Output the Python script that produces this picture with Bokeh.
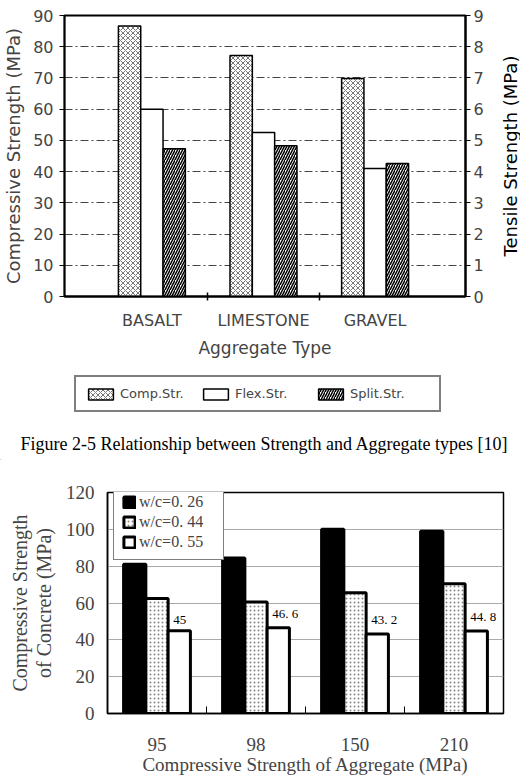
from math import pi

from bokeh.plotting import figure
from bokeh.models import (Range1d, LinearAxis, FixedTicker, Legend, LegendItem,
                          Label, ColumnDataSource)
from bokeh.transform import dodge
from bokeh.layouts import row
from bokeh.core.properties import value
from bokeh.embed import file_html
from bokeh.resources import INLINE

# ---- Figure 2-5: strength vs. aggregate type ----
aggregate_types = ["BASALT", "LIMESTONE", "GRAVEL"]
comp_str = [86.6, 77.2, 69.8]      # compressive strength, MPa (left axis)
flex_str = [6.0, 5.25, 4.1]        # flexural strength, MPa (right axis)
split_str = [4.73, 4.83, 4.26]     # splitting tensile strength, MPa (right axis)
comp_ticks = list(range(0, 91, 10))
tensile_ticks = list(range(0, 10))

# ---- concrete strength vs. aggregate strength ----
agg_strength = ["95", "98", "150", "210"]
wc_026 = [81.0, 84.5, 100.0, 99.0]
wc_044 = [62.5, 60.5, 65.5, 70.5]
wc_055 = [45.0, 46.6, 43.2, 44.8]
concrete_ticks = list(range(0, 121, 20))

SANS = "DejaVu Sans"
SERIF = "Liberation Serif"

# bar styles (shared by the bars and the legend swatches)
comp_style = dict(fill_color="white", line_color="black", line_width=1.5,
                  hatch_pattern="diagonal_cross", hatch_color="#555555",
                  hatch_scale=5, hatch_weight=0.8)
flex_style = dict(fill_color="white", line_color="black", line_width=1.5)
split_style = dict(fill_color="white", line_color="black", line_width=1.5,
                   hatch_pattern="right_diagonal_line", hatch_color="black",
                   hatch_scale=5, hatch_weight=1.5)


def blank_figure(width, height, xr, yr, **borders):
    """Axis-less drawing area used for titles, legends and captions."""
    f = figure(width=width, height=height, x_range=Range1d(*xr), y_range=Range1d(*yr),
               x_axis_type=None, y_axis_type=None, output_backend="svg",
               toolbar_location=None, **borders)
    f.grid.visible = False
    f.outline_line_color = None
    f.background_fill_color = "white"
    f.border_fill_color = "white"
    return f


# ------------------------------------------------------------------ top chart
src1 = ColumnDataSource(dict(x=list(range(len(aggregate_types))),
                             comp=comp_str, flex=flex_str, split=split_str))

p1 = figure(width=497, height=360, x_range=Range1d(-0.783, 2.81), y_range=Range1d(0, 90),
            output_backend="svg", toolbar_location=None,
            min_border_left=59, min_border_right=32, min_border_top=15, min_border_bottom=57)
p1.extra_y_ranges = {"tensile": Range1d(0, 9)}
p1.background_fill_color = "white"
p1.border_fill_color = "white"
p1.outline_line_color = "black"
p1.outline_line_width = 2

bw = 0.2
p1.vbar(x=dodge("x", -bw, range=p1.x_range), top="comp", width=bw, source=src1, **comp_style)
p1.vbar(x=dodge("x", 0.0, range=p1.x_range), top="flex", width=bw, source=src1,
        y_range_name="tensile", **flex_style)
p1.vbar(x=dodge("x", bw, range=p1.x_range), top="split", width=bw, source=src1,
        y_range_name="tensile", **split_style)

p1.xgrid.visible = False
p1.ygrid.ticker = FixedTicker(ticks=comp_ticks[1:-1])
p1.ygrid.grid_line_color = "#444444"
p1.ygrid.grid_line_width = 1
p1.ygrid.grid_line_dash = "8 3 2 3"

ly = p1.yaxis[0]
ly.ticker = FixedTicker(ticks=comp_ticks)
ly.axis_label = "Compressive Strength (MPa)"
ly.axis_label_text_font = SANS
ly.axis_label_text_font_style = "normal"
ly.axis_label_text_font_size = "18px"
ly.axis_label_standoff = 6
ly.major_label_text_font = SANS
ly.major_label_text_font_size = "16px"
ly.major_label_standoff = 6
ly.major_tick_out = 5
ly.major_tick_in = 0
ly.minor_tick_line_color = None
ly.axis_line_width = 1.5

ry = LinearAxis(y_range_name="tensile", ticker=FixedTicker(ticks=tensile_ticks))
ry.major_label_text_font = SANS
ry.major_label_text_font_size = "16px"
ry.major_label_standoff = 3
ry.major_tick_out = 5
ry.major_tick_in = 0
ry.minor_tick_line_color = None
ry.axis_line_width = 2
p1.add_layout(ry, "right")

bx = p1.xaxis[0]
bx.ticker = FixedTicker(ticks=list(range(len(aggregate_types))), minor_ticks=[0.5, 1.5])
bx.major_label_overrides = {i: name for i, name in enumerate(aggregate_types)}
bx.major_label_text_font = SANS
bx.major_label_text_font_size = "16px"
bx.major_label_standoff = 10
bx.major_tick_line_color = None
bx.major_tick_in = 0
bx.major_tick_out = 0
bx.minor_tick_in = 4
bx.minor_tick_out = 4
bx.minor_tick_line_color = "black"
bx.minor_tick_line_width = 1.5
bx.axis_line_width = 2
bx.axis_label = "Aggregate Type"
bx.axis_label_text_font = SANS
bx.axis_label_text_font_style = "normal"
bx.axis_label_text_font_size = "17px"
bx.axis_label_standoff = 5

# right-hand axis title, reading bottom-to-top
tensile_title = blank_figure(23, 360, (0, 23), (0, 1), min_border_left=0, min_border_right=0,
                             min_border_top=15, min_border_bottom=57)
tensile_title.add_layout(Label(x=12.5, y=0.5, text="Tensile Strength (MPa)", angle=pi / 2,
                               text_align="center", text_baseline="middle",
                               text_font=SANS, text_font_size="18px", text_color="black"))

# ------------------------------------------------ legend strip + figure caption
strip = blank_figure(520, 100, (0, 520), (0, 100), min_border=0)

# legend proxies: one zero-height bar each, parked outside the strip's range
proxy = dict(x=[-100], top=[0], bottom=[0], width=1)
sw_comp = strip.vbar(**proxy, **comp_style)
sw_flex = strip.vbar(**proxy, **flex_style)
sw_split = strip.vbar(**proxy, **split_style)

leg1 = Legend(items=[LegendItem(label="Comp.Str.", renderers=[sw_comp]),
                     LegendItem(label="Flex.Str.", renderers=[sw_flex]),
                     LegendItem(label="Split.Str.", renderers=[sw_split])],
              orientation="horizontal", location=(74, 48),
              glyph_width=31, glyph_height=14, label_standoff=4, label_width=80,
              spacing=0, padding=9, margin=0,
              label_text_font=SANS, label_text_font_size="13px",
              border_line_color="black", border_line_width=2,
              background_fill_color="white", background_fill_alpha=1.0)
strip.add_layout(leg1)

strip.add_layout(Label(x=264, y=17, x_units="screen", y_units="screen",
                       text="Figure 2-5 Relationship between Strength and Aggregate types [10]",
                       text_align="center", text_baseline="middle",
                       text_font=SERIF, text_font_size="18px", text_color="black"))

# --------------------------------------------------------------- bottom chart
src2 = ColumnDataSource(dict(x=list(range(len(agg_strength))),
                             a=wc_026, b=wc_044, c=wc_055,
                             c_text=[f"{v:g}".replace(".", ". ") for v in wc_055]))

p2 = figure(width=520, height=323, x_range=Range1d(-0.5, 3.5), y_range=Range1d(0, 120),
            output_backend="svg", toolbar_location=None,
            min_border_left=107, min_border_right=17, min_border_top=32, min_border_bottom=70)
p2.background_fill_color = "white"
p2.border_fill_color = "white"
p2.outline_line_color = "black"
p2.outline_line_width = 1.5

bw2 = 0.225
r_a = p2.vbar(x=dodge("x", -bw2, range=p2.x_range), top="a", width=bw2, source=src2,
              fill_color="black", line_color="black", line_width=3)
r_b = p2.vbar(x=dodge("x", 0.0, range=p2.x_range), top="b", width=bw2, source=src2,
              fill_color="white", line_color="black", line_width=3,
              hatch_pattern="dot", hatch_color="#888888", hatch_scale=4, hatch_weight=1)
r_c = p2.vbar(x=dodge("x", bw2, range=p2.x_range), top="c", width=bw2, source=src2,
              fill_color="white", line_color="black", line_width=3)

p2.text(x=dodge("x", bw2 / 2, range=p2.x_range), y="c", text="c_text", source=src2,
        x_offset=5, y_offset=-7, text_align="left", text_baseline="bottom",
        text_font=value(SERIF), text_font_size="13px", text_color="black")

p2.xgrid.visible = False
p2.ygrid.ticker = FixedTicker(ticks=concrete_ticks[1:-1])
p2.ygrid.grid_line_color = "#aaaaaa"
p2.ygrid.grid_line_width = 1

ly2 = p2.yaxis[0]
ly2.ticker = FixedTicker(ticks=concrete_ticks)
ly2.major_label_text_font = SERIF
ly2.major_label_text_font_size = "19px"
ly2.major_label_standoff = 13
ly2.major_tick_in = 0
ly2.major_tick_out = 0
ly2.minor_tick_line_color = None
ly2.axis_line_width = 1.5
ly2.axis_label = "Compressive Strength\nof Concrete (MPa)"
ly2.axis_label_text_font = SERIF
ly2.axis_label_text_font_style = "normal"
ly2.axis_label_text_font_size = "20px"
ly2.axis_label_text_line_height = 1.1
ly2.axis_label_standoff = 8

bx2 = p2.xaxis[0]
bx2.ticker = FixedTicker(ticks=list(range(len(agg_strength))), minor_ticks=[0.5, 1.5, 2.5])
bx2.major_label_overrides = {i: name for i, name in enumerate(agg_strength)}
bx2.major_label_text_font = SERIF
bx2.major_label_text_font_size = "19px"
bx2.major_label_standoff = 24
bx2.major_tick_line_color = None
bx2.major_tick_in = 0
bx2.major_tick_out = 0
bx2.minor_tick_in = 7
bx2.minor_tick_out = 0
bx2.minor_tick_line_color = "black"
bx2.minor_tick_line_width = 1
bx2.axis_line_width = 1.5
bx2.axis_label = "Compressive Strength of Aggregate (MPa)"
bx2.axis_label_text_font = SERIF
bx2.axis_label_text_font_style = "normal"
bx2.axis_label_text_font_size = "19px"
bx2.axis_label_standoff = 0

leg2 = Legend(items=[LegendItem(label="w/c=0. 26", renderers=[r_a]),
                     LegendItem(label="w/c=0. 44", renderers=[r_b]),
                     LegendItem(label="w/c=0. 55", renderers=[r_c])],
              location=(6, 153), glyph_width=14, glyph_height=14,
              label_standoff=3, label_width=76, spacing=2, padding=8, margin=0,
              label_text_font=SERIF, label_text_font_size="16px",
              border_line_color="black", border_line_width=1,
              background_fill_color="white", background_fill_alpha=1.0)
p2.add_layout(leg2)

# independent roots stacked top to bottom (no shared frame alignment between charts)
top = row(p1, tensile_title, spacing=0)
open("out.html", "w").write(file_html([top, strip, p2], INLINE))
